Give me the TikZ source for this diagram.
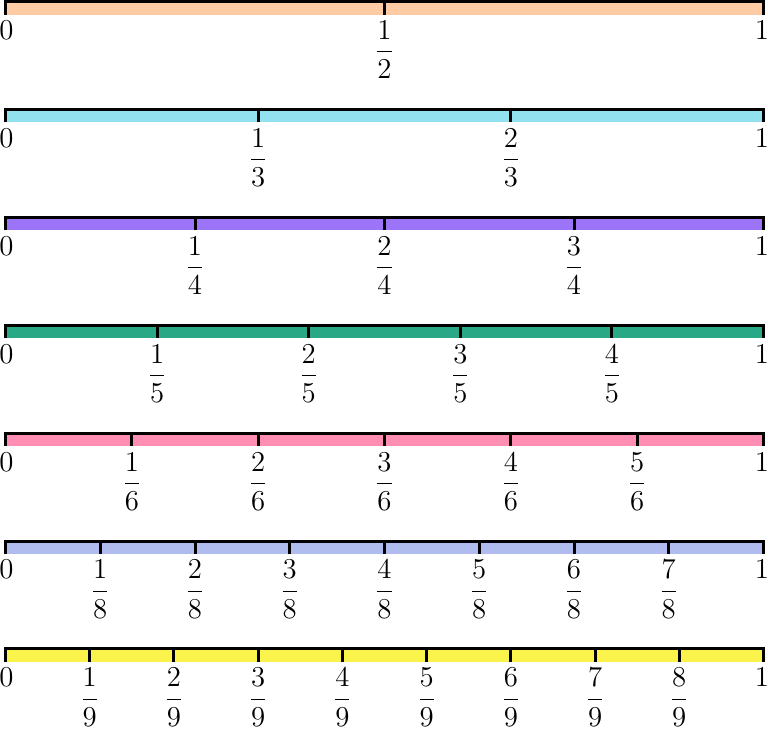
\documentclass[tikz,border=0pt]{standalone}
\usepackage{amsmath}

\definecolor{halfcol}{HTML}{FFCBA4}
\definecolor{thirdcol}{HTML}{92E1EE}
\definecolor{fourthcol}{HTML}{9B74F8}
\definecolor{fifthcol}{HTML}{29A885}
\definecolor{sixthcol}{HTML}{FF8EB2}
\definecolor{eighthcol}{HTML}{B0BCEE}
\definecolor{ninthcol}{HTML}{FAF34B}

\tikzset{
    rule/.style={draw=black, line width=1.5pt},
    lab/.style={anchor=north, inner sep=0pt}
}

\begin{document}
\begin{tikzpicture}[x=0.5pt, y=-0.5pt, font=\fontsize{14.5}{17}\selectfont]
    \useasboundingbox (0,0) rectangle (768,729);

    % One strip for each denominator
    \foreach \n/\col [count=\r from 0] in {2/halfcol,3/thirdcol,4/fourthcol,5/fifthcol,6/sixthcol,8/eighthcol,9/ninthcol} {
        \pgfmathsetmacro\y{1.5+107.9*\r}
        \pgfmathtruncatemacro\m{\n-1}
        % coloured strip
        \fill[\col] (5.5,\y) rectangle (763.5,\y+13);
        \draw[rule] (5.5,\y+13) -- (5.5,\y) -- (763.5,\y) -- (763.5,\y+13);
        % end labels
        \node[lab] (zero\n) at (6.5,\y+19) {$0$};
        \node[lab] (one\n) at (762,\y+19) {$1$};
        % inner ticks and fractions
        \foreach \k in {1,...,\m} {
            \pgfmathsetmacro\x{5.5+758*\k/\n}
            \draw[rule] (\x,\y) -- (\x,\y+13);
            \node[lab] (f\n-\k) at (\x,\y+19) {$\dfrac{\k}{\n}$};
        }
    }

\end{tikzpicture}
\end{document}
